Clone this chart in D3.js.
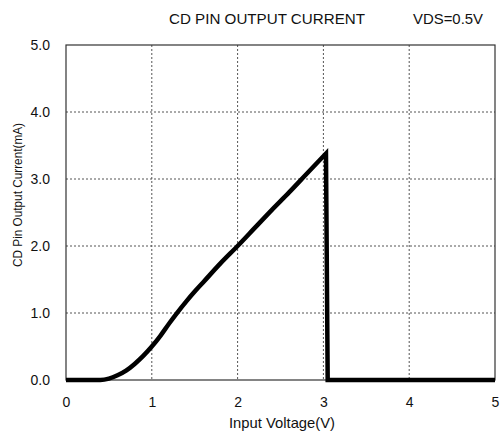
<!DOCTYPE html>
<html><head><meta charset="utf-8">
<script src="https://cdn.jsdelivr.net/npm/d3@7"></script>
<style>body{margin:0;background:#fff}svg{display:block}text{font-family:"Liberation Sans",Arial,sans-serif;fill:#111}</style>
</head><body>
<svg id="c" width="502" height="436"></svg>
<script>
const voltage = [0, 0.4, 0.5, 0.6, 0.7, 0.8, 0.9, 1.0, 1.1, 1.2, 1.3, 1.4, 1.5, 1.6, 1.8, 2.0, 2.2, 2.4, 2.6, 2.8, 3.03, 3.05, 5.0];
const current = [0, 0, 0.02, 0.07, 0.14, 0.24, 0.36, 0.5, 0.66, 0.84, 1.01, 1.17, 1.32, 1.46, 1.74, 2.0, 2.27, 2.54, 2.8, 3.07, 3.38, 0, 0];
const xTicks = [0, 1, 2, 3, 4, 5];
const yTicks = [0, 1, 2, 3, 4, 5];
const title = "CD PIN OUTPUT CURRENT";
const condition = "VDS=0.5V";
const xTitle = "Input Voltage(V)";
const yTitle = "CD Pin Output Current(mA)";

const svg = d3.select("#c");
const L = 66, R = 495, T = 45, B = 380;
const x = d3.scaleLinear().domain([0, 5]).range([L, R]);
const y = d3.scaleLinear().domain([0, 5]).range([B, T]);

// grid
svg.append("g").selectAll("line").data(xTicks.slice(1, -1)).join("line")
  .attr("x1", d => x(d)).attr("x2", d => x(d)).attr("y1", T).attr("y2", B)
  .attr("stroke", "#555").attr("stroke-width", 1).attr("stroke-dasharray", "2,2");
svg.append("g").selectAll("line").data(yTicks.slice(1, -1)).join("line")
  .attr("y1", d => y(d)).attr("y2", d => y(d)).attr("x1", L).attr("x2", R)
  .attr("stroke", "#555").attr("stroke-width", 1).attr("stroke-dasharray", "2,2");

// frame
svg.append("rect").attr("x", L).attr("y", T).attr("width", R - L).attr("height", B - T)
  .attr("fill", "none").attr("stroke", "#333").attr("stroke-width", 1.2);

// axes labels via d3 axes (no lines)
const xa = svg.append("g").attr("transform", `translate(0,${B})`)
  .call(d3.axisBottom(x).tickValues(xTicks).tickFormat(d3.format("d")).tickSize(0).tickPadding(17));
const ya = svg.append("g").attr("transform", `translate(${L},0)`)
  .call(d3.axisLeft(y).tickValues(yTicks).tickFormat(d3.format(".1f")).tickSize(0).tickPadding(16));
[xa, ya].forEach(a => { a.select(".domain").remove(); a.selectAll("text").attr("font-size", 14).attr("font-family", "'Liberation Sans',Arial,sans-serif").attr("fill", "#111"); });

// curve: smooth rise up to the peak, straight drop afterwards
const pts = voltage.map((v, i) => [v, current[i]]);
const peak = d3.maxIndex(current);
const rise = pts.slice(0, peak + 1);
const fall = pts.slice(peak);
const lineSmooth = d3.line().x(d => x(d[0])).y(d => y(d[1])).curve(d3.curveMonotoneX);
const lineStraight = d3.line().x(d => x(d[0])).y(d => y(d[1]));
svg.append("path")
  .attr("d", lineSmooth(rise) + lineStraight(fall).replace(/^M/, "L"))
  .attr("fill", "none").attr("stroke", "#000").attr("stroke-width", 4.5).attr("stroke-linejoin", "miter");

// titles
svg.append("text").attr("x", 267).attr("y", 24).attr("text-anchor", "middle").attr("font-size", 15)
  .attr("textLength", 196).attr("lengthAdjust", "spacingAndGlyphs").text(title);
svg.append("text").attr("x", 448).attr("y", 24).attr("text-anchor", "middle").attr("font-size", 15)
  .attr("textLength", 70).attr("lengthAdjust", "spacingAndGlyphs").text(condition);
svg.append("text").attr("x", 282).attr("y", 428).attr("text-anchor", "middle").attr("font-size", 14.5)
  .attr("textLength", 106).attr("lengthAdjust", "spacingAndGlyphs").text(xTitle);
svg.append("text").attr("transform", "translate(22,195) rotate(-90)").attr("text-anchor", "middle").attr("font-size", 13)
  .attr("textLength", 144).attr("lengthAdjust", "spacingAndGlyphs").text(yTitle);
</script>
</body></html>
